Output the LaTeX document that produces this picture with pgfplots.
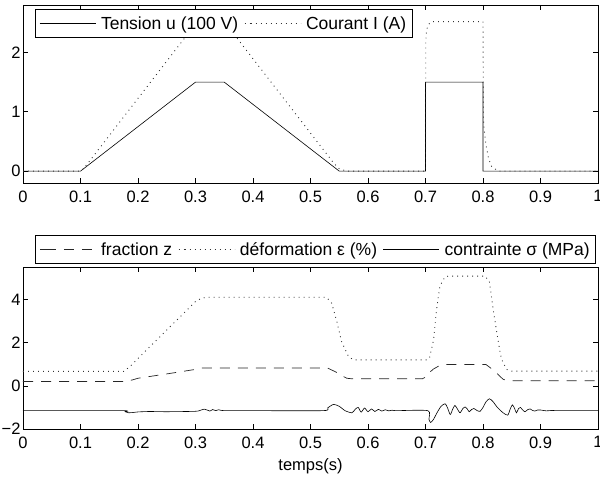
\documentclass[border=0pt]{standalone}
\usepackage{fontspec}
\setmainfont{Liberation Sans}
\usepackage{pgfplots}
\pgfplotsset{compat=1.18}
\newcommand\fs{\fontsize{16.5bp}{19bp}\selectfont}
\newcommand\lfs{\fontsize{17.5bp}{20bp}\selectfont}

\pgfplotsset{
  mat/.style={
    scale only axis, width=575bp,
    xmin=0, xmax=1,
    xtick={0,0.1,0.2,0.3,0.4,0.5,0.6,0.7,0.8,0.9,1},
    xticklabels={0,0.1,0.2,0.3,0.4,0.5,0.6,0.7,0.8,0.9,1},
    tick align=inside,
    major tick length=5bp,
    axis line style={line width=0.8bp},
    every tick/.style={black, line width=0.6bp},
    tick label style={font=\fs},
    xticklabel style={yshift=-4bp},
    yticklabel style={xshift=1bp},
    label style={font=\fs},
    legend columns=-1,
    legend cell align=left,
    legend style={draw=black, line width=0.8bp, fill=white, font=\lfs,
      inner xsep=4bp, inner ysep=5bp,
      /tikz/every even column/.append style={column sep=4bp},
      /tikz/every odd column/.append style={column sep=3bp}},
    legend image code/.code={\path (0bp,0bp) -- (6bp,0bp);
      \draw[#1] (6bp,0bp) -- (56bp,0bp);},
  },
  sol/.style={black, line width=0.6bp},
  dot/.style={black!80, line width=0.9bp, dash pattern=on 0.9bp off 4.1bp},
  dsh/.style={black!85, line width=0.7bp, dash pattern=on 10bp off 8bp},
}

\begin{document}
\begin{tikzpicture}
\useasboundingbox (-23bp,-51bp) rectangle (577bp,429bp);

% --- top: tension et courant
\begin{axis}[mat, at={(0bp,246bp)}, anchor=south west, height=178bp,
  ymin=-0.2, ymax=2.8, ytick={0,1,2}, yticklabels={0,1,2},
  legend style={at={(0.0209,0.9775)}, anchor=north west}]
\addplot[sol] coordinates {
  (0,0) (0.1,0) (0.3,1.5) (0.35,1.5) (0.55,0) (0.7,0) (0.7,1.5)
  (0.8,1.5) (0.8,0) (1,0)
};
\addlegendentry{Tension u (100 V)}
\addplot[dot] coordinates {
  (0,0) (0.1,0) (0.105,0.04) (0.115,0.16) (0.3,2.48) (0.305,2.52) (0.35,2.52)
  (0.54,0.14) (0.55,0.04) (0.56,0.01) (0.565,0) (0.7,0)
  (0.7005,2.2) (0.702,2.38) (0.705,2.47) (0.711,2.52) (0.8,2.52)
  (0.8005,1.5) (0.801,0.8) (0.805,0.45) (0.81,0.2) (0.815,0.08) (0.825,0.01)
  (0.83,0) (1,0)
};
\addlegendentry{Courant I (A)}
\end{axis}

% --- bottom: fraction, deformation, contrainte
\begin{axis}[mat, at={(0bp,0bp)}, anchor=south west, height=162bp,
  ymin=-2, ymax=5.5, ytick={-2,0,2,4}, yticklabels={−2,0,2,4},
  xlabel={temps(s)}, xlabel style={yshift=-4bp},
  legend style={at={(0.0209,1.1975)}, anchor=north west}]
\addplot[dsh] coordinates {
  (0,0.2) (0.175,0.2) (0.19,0.27) (0.2,0.35) (0.25,0.55) (0.3,0.76)
  (0.31,0.82) (0.53,0.82) (0.544,0.64) (0.556,0.45) (0.563,0.35) (0.57,0.33)
  (0.695,0.33) (0.7,0.4) (0.707,0.62) (0.714,0.78) (0.722,0.9) (0.731,0.97)
  (0.74,0.99) (0.805,0.99) (0.812,0.85) (0.824,0.58) (0.835,0.3) (0.845,0.23)
  (1,0.23)
};
\addlegendentry{fraction z}
\addplot[dot] coordinates {
  (0,0.67) (0.175,0.67) (0.185,0.87) (0.3,3.9) (0.31,4.05) (0.32,4.1)
  (0.528,4.1) (0.537,3.82) (0.546,2.95) (0.554,2.05) (0.566,1.36) (0.574,1.21)
  (0.58,1.2) (0.703,1.2) (0.707,1.3) (0.714,2.12) (0.719,3.49) (0.725,4.62)
  (0.734,5.05) (0.74,5.08) (0.803,5.08) (0.811,4.85) (0.818,3.48) (0.827,1.97)
  (0.832,1.24) (0.841,0.76) (0.85,0.68) (1,0.68)
};
\addlegendentry{déformation ε (\%)}
\addplot[sol, smooth, tension=0.4] coordinates {
  (0,-1.15) (0.172,-1.15) (0.178,-1.2) (0.184,-1.25) (0.19,-1.24) (0.2,-1.21)
  (0.22,-1.19) (0.25,-1.2) (0.3,-1.18) (0.31,-1.12) (0.315,-1.08) (0.32,-1.12)
  (0.325,-1.17) (0.33,-1.1) (0.335,-1.15) (0.34,-1.11) (0.35,-1.15)
  (0.4,-1.15) (0.522,-1.15) (0.53,-1.02) (0.54,-0.86) (0.55,-0.95)
  (0.56,-1.15) (0.572,-1.25) (0.578,-1.08) (0.583,-1.0) (0.588,-1.22)
  (0.594,-1.03) (0.6,-1.2) (0.606,-1.07) (0.612,-1.19) (0.618,-1.09)
  (0.624,-1.17) (0.63,-1.11) (0.636,-1.16) (0.642,-1.13) (0.65,-1.15)
  (0.704,-1.15) (0.706,-1.55) (0.709,-1.7) (0.714,-1.55) (0.72,-1.25)
  (0.727,-0.95) (0.734,-0.83) (0.738,-1.0) (0.743,-1.33) (0.747,-1.1)
  (0.751,-0.91) (0.755,-1.05) (0.76,-1.25) (0.765,-1.05) (0.769,-0.98)
  (0.772,-1.05) (0.776,-1.2) (0.78,-1.1) (0.784,-1.05) (0.79,-1.15)
  (0.795,-1.18) (0.8,-1.0) (0.805,-0.75) (0.811,-0.6) (0.817,-0.72)
  (0.825,-1.0) (0.835,-1.25) (0.843,-1.36) (0.847,-1.1) (0.851,-0.88)
  (0.855,-1.05) (0.858,-1.25) (0.862,-1.05) (0.865,-1.0) (0.869,-1.12)
  (0.873,-1.2) (0.878,-1.1) (0.882,-1.07) (0.886,-1.14) (0.89,-1.17)
  (0.895,-1.12) (0.9,-1.12) (0.91,-1.16) (0.92,-1.14) (0.93,-1.15) (1,-1.15)
};
\addlegendentry{contrainte σ (MPa)}
\end{axis}
\end{tikzpicture}
\end{document}
